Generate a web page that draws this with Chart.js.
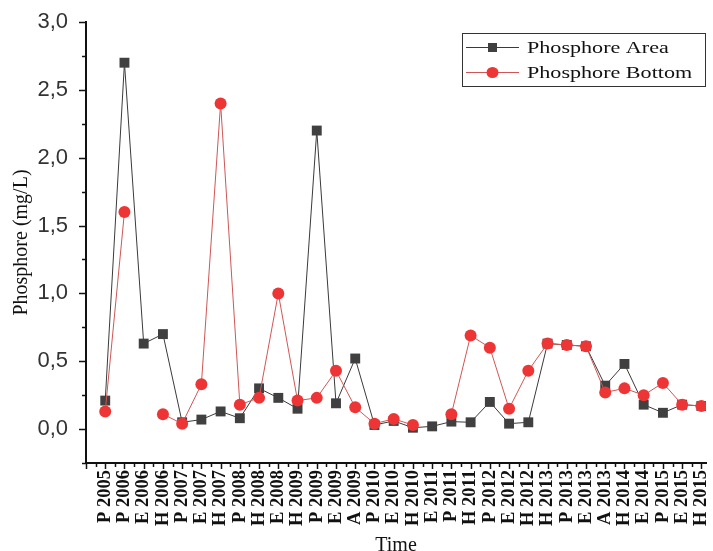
<!DOCTYPE html>
<html>
<head>
<meta charset="utf-8">
<script src="https://cdn.jsdelivr.net/npm/chart.js@4"></script>
<style>
  html, body { margin: 0; padding: 0; background: #ffffff; overflow: hidden; }
  #wrap { position: relative; width: 713px; height: 551px; }
</style>
</head>
<body>
<div id="wrap"><canvas id="c" width="713" height="551"></canvas></div>
<script>
const categories = ['P 2005','P 2006','E 2006','H 2006','P 2007','E 2007','H 2007','P 2008','H 2008','E 2008','H 2009','P 2009','E 2009','A 2009','P 2010','E 2010','H 2010','E 2011','P 2011','H 2011','P 2012','E 2012','H 2012','H 2013','P 2013','E 2013','A 2013','H 2014','E 2014','P 2015','E 2015','H 2015'];
const phosphoreArea = [0.21,2.70,0.63,0.70,0.05,0.07,0.13,0.08,0.30,0.23,0.15,2.20,0.19,0.52,0.03,0.06,0.01,0.02,0.055,0.05,0.20,0.04,0.05,0.63,0.62,0.61,0.32,0.48,0.18,0.12,0.18,0.17];
const phosphoreBottom = [0.13,1.60,null,0.11,0.04,0.33,2.40,0.18,0.23,1.00,0.21,0.23,0.43,0.16,0.04,0.075,0.03,null,0.11,0.69,0.60,0.15,0.43,0.63,0.62,0.61,0.27,0.30,0.25,0.34,0.18,0.17];
const yTickValues = [0, 0.5, 1.0, 1.5, 2.0, 2.5, 3.0];
const seriesNames = ['Phosphore Area', 'Phosphore Bottom'];

const toPoints = arr => arr.map((v, i) => ({ x: i, y: v }));

const AREA_LINE = '#3a3a3a', AREA_PT = '#404040';
const BOT_LINE = '#cf5656', BOT_PT = '#ee3535';

const minorTicks = {
  id: 'minorTicks',
  afterDraw(chart) {
    const ctx = chart.ctx, xs = chart.scales.x, ys = chart.scales.y;
    ctx.save();
    ctx.strokeStyle = '#111';
    ctx.lineWidth = 1.5;
    const left = chart.chartArea.left, bottom = chart.chartArea.bottom;
    for (let v = -0.25; v <= 3.0001; v += 0.25) {
      const major = Math.abs(v * 2 - Math.round(v * 2)) < 1e-6;
      const y = Math.round(ys.getPixelForValue(v)) + 0.5;
      ctx.beginPath();
      ctx.moveTo(left, y);
      ctx.lineTo(left - (major ? 7 : 4), y);
      ctx.stroke();
    }
    for (let v = -1; v <= xs.max + 1e-6; v += 0.5) {
      const major = Math.abs(v - Math.round(v)) < 1e-6;
      const x = Math.round(xs.getPixelForValue(v)) + 0.5;
      ctx.beginPath();
      ctx.moveTo(x, bottom);
      ctx.lineTo(x, bottom + (major ? 6 : 4));
      ctx.stroke();
    }
    ctx.restore();
  }
};

const boxLegend = {
  id: 'boxLegend',
  afterDraw(chart) {
    const ctx = chart.ctx;
    const bx = 462, by = 33, bw = 243, bh = 53;
    ctx.save();
    ctx.fillStyle = '#ffffff';
    ctx.fillRect(bx, by, bw, bh);
    ctx.strokeStyle = '#333';
    ctx.lineWidth = 1;
    ctx.strokeRect(bx + 0.5, by + 0.5, bw, bh);
    const rows = [by + 14, by + 39];
    chart.data.datasets.forEach((ds) => {
      const y = rows[ds.legendRow];
      ctx.strokeStyle = ds.borderColor;
      ctx.lineWidth = 1;
      ctx.beginPath();
      ctx.moveTo(466, y + 0.5);
      ctx.lineTo(519, y + 0.5);
      ctx.stroke();
      ctx.fillStyle = ds.pointBackgroundColor;
      if (ds.pointStyle === 'rect') {
        ctx.fillRect(488, y - 4, 9, 9);
      } else {
        ctx.beginPath();
        ctx.ellipse(492.5, y + 0.5, 6, 5.5, 0, 0, Math.PI * 2);
        ctx.fill();
      }
      ctx.save();
      ctx.translate(527, y + 6);
      ctx.scale(1.3, 1);
      ctx.fillStyle = '#111';
      ctx.font = '17px "Liberation Serif", "Times New Roman", serif';
      ctx.textBaseline = 'alphabetic';
      ctx.fillText(ds.label, 0, 0);
      ctx.restore();
    });
    ctx.restore();
  }
};

new Chart(document.getElementById('c'), {
  type: 'line',
  data: {
    datasets: [
      {
        label: seriesNames[1],
        legendRow: 1,
        data: toPoints(phosphoreBottom),
        borderColor: BOT_LINE,
        borderWidth: 1,
        pointStyle: 'circle',
        pointRadius: 6,
        pointBackgroundColor: BOT_PT,
        pointBorderColor: BOT_PT,
        pointBorderWidth: 0,
        tension: 0,
        spanGaps: false,
        order: 0
      },
      {
        label: seriesNames[0],
        legendRow: 0,
        data: toPoints(phosphoreArea),
        borderColor: AREA_LINE,
        borderWidth: 1,
        pointStyle: 'rect',
        pointRadius: 7,
        pointBackgroundColor: AREA_PT,
        pointBorderColor: AREA_PT,
        pointBorderWidth: 0,
        tension: 0,
        order: 1
      }
    ]
  },
  options: {
    responsive: false,
    animation: false,
    devicePixelRatio: 1,
    layout: { padding: { top: 22, right: 0, left: 0, bottom: 0 } },
    plugins: {
      legend: { display: false },
      tooltip: { enabled: false }
    },
    scales: {
      x: {
        type: 'linear',
        min: -1,
        max: 31.24,
        grid: { display: false, drawTicks: false },
        border: { display: true, color: '#111', width: 2 },
        afterBuildTicks: (s) => { s.ticks = categories.map((c, i) => ({ value: i })); },
        ticks: {
          autoSkip: false,
          minRotation: 90,
          maxRotation: 90,
          padding: 7,
          color: '#111',
          font: { family: '"Liberation Serif", "Times New Roman", serif', size: 18.5, weight: 'bold' },
          callback: (v) => categories[v] ?? ''
        },
        title: {
          display: true,
          text: 'Time',
          color: '#111',
          font: { family: '"Liberation Serif", "Times New Roman", serif', size: 20 },
          padding: { top: 0, bottom: -7 }
        },
        afterFit: (s) => { s.height = 88; s.paddingLeft = 0; s.paddingRight = 0; }
      },
      y: {
        min: -0.25,
        max: 3.0,
        grid: { display: false, drawTicks: false },
        border: { display: true, color: '#111', width: 2 },
        afterBuildTicks: (s) => { s.ticks = yTickValues.map(v => ({ value: v })); },
        ticks: {
          padding: 18,
          color: '#333',
          font: { family: '"Liberation Sans", Arial, sans-serif', size: 22 },
          callback: (v) => v.toFixed(1).replace('.', ',')
        },
        title: {
          display: true,
          text: 'Phosphore (mg/L)',
          color: '#111',
          font: { family: '"Liberation Serif", "Times New Roman", serif', size: 20 },
          padding: { top: 10, bottom: 0 }
        },
        afterFit: (s) => { s.width = 86; s.paddingTop = 0; s.paddingBottom = 0; }
      }
    }
  },
  plugins: [minorTicks, boxLegend]
});
</script>
</body>
</html>
